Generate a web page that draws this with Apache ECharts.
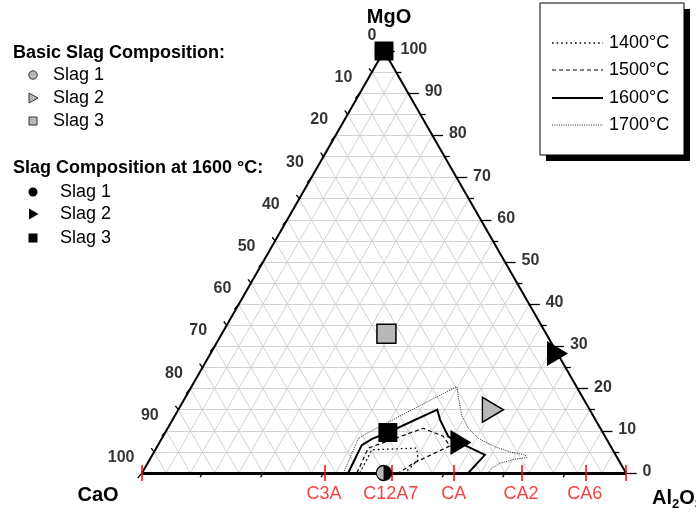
<!DOCTYPE html>
<html>
<head>
<meta charset="utf-8">
<script src="https://cdn.jsdelivr.net/npm/echarts@6/dist/echarts.min.js"></script>
<style>
  html, body { margin: 0; padding: 0; background: #fff; }
  #chart { width: 696px; height: 516px; }
</style>
</head>
<body>
<div id="chart"></div>
<script>
// Compositions in wt%: [CaO, MgO, Al2O3]
const basicSlag1 = [[50, 0, 50]];
const basicSlag2 = [[20, 15, 65]];
const basicSlag3 = [[33, 33, 34]];
const slag1At1600 = [[50, 0, 50]];
const slag2At1600 = [[30.5, 7.2, 62.3], [0, 28.3, 71.7]];
const slag3At1600 = [[44.4, 9.6, 46.0], [0, 100, 0]];

// Liquidus isotherms, [CaO, MgO, Al2O3]
const iso1400 = [[55.0, 0, 45.0], [49.8, 5.5, 44.7], [40.3, 5.9, 53.8], [41.4, 3.1, 55.5], [45.7, 0, 54.3]];
const iso1500 = [[55.6, 0, 44.4], [50.3, 5.9, 43.8], [36.6, 10.6, 52.8], [33.4, 8.7, 57.9], [33.2, 6.4, 60.4], [42.8, 2.3, 54.9], [47.0, 0, 53.0]];
const iso1600 = [[57.4, 0, 42.6], [51.3, 6.6, 42.1], [48.4, 8.1, 43.5], [44.4, 9.6, 46.0], [31.5, 15.0, 53.5],
                 [32.1, 12.6, 55.3], [32.4, 8.6, 59.0], [29.5, 6.2, 64.3], [27.0, 4.3, 68.7], [32.6, 0, 67.4]];
const iso1700 = [[58.4, 0, 41.6], [51.1, 8.3, 40.6], [48.4, 9.6, 42.0], [30.6, 17.8, 51.6], [24.7, 20.5, 54.8],
                 [25.7, 17.8, 56.5], [27.1, 13.7, 59.2], [27.3, 10.6, 62.1], [26.4, 8.2, 65.4], [24.0, 6.2, 69.8],
                 [21.2, 4.9, 73.9], [18.7, 4.3, 77.0], [18.7, 3.6, 77.7], [21.3, 3.3, 75.4], [24.9, 2.3, 72.8],
                 [27.2, 1.1, 71.7], [28.5, 0, 71.5]];

// CaO–Al2O3 binary compounds (wt% Al2O3)
const compoundNames = ['C3A', 'C12A7', 'CA', 'CA2', 'CA6'];
const compoundAl2O3 = [37.7, 51.5, 64.5, 78.4, 91.6];

const axisTicks = [0, 10, 20, 30, 40, 50, 60, 70, 80, 90, 100];
const isothermNames = ['1400°C', '1500°C', '1600°C', '1700°C'];

// ternary -> plot coords (x = Al2O3 + MgO/2, y = MgO)
function tern(p) { return [p[2] + p[1] / 2, p[1]]; }

const FONT = '"Liberation Sans", Arial, Helvetica, sans-serif';

// grid lines every 5 %
const gridLines = [];
for (let k = 5; k < 100; k += 5) {
  gridLines.push({ coords: [tern([100 - k, k, 0]), tern([0, k, 100 - k])] });
  gridLines.push({ coords: [tern([k, 100 - k, 0]), tern([k, 0, 100 - k])] });
  gridLines.push({ coords: [tern([100 - k, 0, k]), tern([0, 100 - k, k])] });
}

// ticks
const tickLines = [];
for (let k = 0; k <= 100; k += 5) {
  const major = k % 10 === 0;
  // right edge (MgO): horizontal, outward
  const r = tern([0, k, 100 - k]);
  tickLines.push({ coords: [r, [r[0] + (major ? 2.2 : 1.1), r[1]]] });
  // left edge (CaO)
  const l = tern([k, 100 - k, 0]);
  if (major) tickLines.push({ coords: [l, [l[0] - 0.9, l[1] - 1.2]] });
  else tickLines.push({ coords: [l, [l[0] - 0.6, l[1] + 0.9]] });
}
for (let k = 12.5; k < 100; k += 12.5) {
  tickLines.push({ coords: [[k, 0], [k - 0.5, -1.0]] });
}

const redTicks = [0].concat(compoundAl2O3, [100]).map(a => ({ coords: [[a, -1.9], [a, 1.9]] }));

const edges = [
  { coords: [tern([100, 0, 0]), tern([0, 100, 0])], lineStyle: { width: 2 } },
  { coords: [tern([0, 100, 0]), tern([0, 0, 100])], lineStyle: { width: 2 } },
  { coords: [tern([100, 0, 0]), tern([0, 0, 100])], lineStyle: { width: 3 } }
];

const isoStyles = [
  { type: [1.6, 3], width: 1.3, color: '#000' },
  { type: [4, 3], width: 1.2, color: '#000' },
  { type: 'solid', width: 2, color: '#000' },
  { type: [1, 1.3], width: 1, color: '#222' }
];
const isoData = [iso1400, iso1500, iso1600, iso1700];

const series = [];
series.push({
  type: 'lines', coordinateSystem: 'cartesian2d', polyline: false, silent: true, clip: false, z: 1,
  lineStyle: { color: '#d2d2d2', width: 1, opacity: 1 },
  data: gridLines
});
isoData.forEach((d, i) => {
  series.push({
    type: 'lines', coordinateSystem: 'cartesian2d', polyline: true, silent: true, clip: false, z: 3,
    lineStyle: Object.assign({ opacity: 1 }, isoStyles[i]),
    data: [{ coords: d.map(tern) }]
  });
});
series.push({
  type: 'lines', coordinateSystem: 'cartesian2d', silent: true, clip: false, z: 4,
  lineStyle: { color: '#000', width: 2, opacity: 1 }, data: edges
});
series.push({
  type: 'lines', coordinateSystem: 'cartesian2d', silent: true, clip: false, z: 4,
  lineStyle: { color: '#000', width: 1.3, opacity: 1 }, data: tickLines
});
series.push({
  type: 'lines', coordinateSystem: 'cartesian2d', silent: true, clip: false, z: 6,
  lineStyle: { color: '#f00', width: 1.5, opacity: 1 }, data: redTicks
});

// tick labels
const labelBase = { color: '#000', fontFamily: FONT, fontWeight: 'bold', fontSize: 16 };
series.push({
  type: 'scatter', silent: true, clip: false, symbolSize: 1, itemStyle: { color: 'rgba(0,0,0,0)' },
  label: Object.assign({ show: true, position: [-7, -15], align: 'right', verticalAlign: 'middle',
    formatter: p => p.value[2] }, labelBase),
  data: axisTicks.map(k => tern([k, 100 - k, 0]).concat([k]))
});
series.push({
  type: 'scatter', silent: true, clip: false, symbolSize: 1, itemStyle: { color: 'rgba(0,0,0,0)' },
  label: Object.assign({ show: true, position: [17, -1], align: 'left', verticalAlign: 'middle',
    formatter: p => p.value[2] }, labelBase),
  data: axisTicks.map(k => tern([0, k, 100 - k]).concat([k]))
});
series.push({
  type: 'scatter', silent: true, clip: false, symbolSize: 1, itemStyle: { color: 'rgba(0,0,0,0)' },
  label: { show: true, position: [0, 22], align: 'center', verticalAlign: 'middle', color: '#f21010',
    fontFamily: FONT, fontSize: 18, formatter: p => compoundNames[p.dataIndex] },
  data: compoundAl2O3.map(a => [a, 0])
});

// slag compositions
const gray = '#b8b8b8';
series.push({
  name: 'Slag 1 (1600 °C)', type: 'scatter', clip: false, z: 7, symbol: 'circle', symbolSize: 16,
  itemStyle: { color: '#000', opacity: 1 }, data: slag1At1600.map(tern)
});
series.push({
  name: 'Slag 1', type: 'scatter', clip: false, z: 8,
  symbol: 'path://M10,0 A10,10 0 0 0 10,20 Z', symbolSize: [7.5, 15], symbolOffset: [-3.8, 0],
  itemStyle: { color: gray, borderColor: '#000', borderWidth: 1, opacity: 1 }, data: basicSlag1.map(tern)
});
series.push({
  name: 'Slag 2', type: 'scatter', clip: false, z: 7, symbol: 'triangle', symbolRotate: -90, symbolSize: [25, 21],
  itemStyle: { color: gray, borderColor: '#000', borderWidth: 1.5, opacity: 1 }, data: basicSlag2.map(tern)
});
series.push({
  name: 'Slag 3', type: 'scatter', clip: false, z: 7, symbol: 'rect', symbolSize: 19,
  itemStyle: { color: gray, borderColor: '#000', borderWidth: 1.5, opacity: 1 }, data: basicSlag3.map(tern)
});
series.push({
  name: 'Slag 2 (1600 °C)', type: 'scatter', clip: false, z: 7, symbol: 'triangle', symbolRotate: -90, symbolSize: [25, 21],
  itemStyle: { color: '#000', opacity: 1 }, data: slag2At1600.map(tern)
});
series.push({
  name: 'Slag 3 (1600 °C)', type: 'scatter', clip: false, z: 7, symbol: 'rect', symbolSize: 19,
  itemStyle: { color: '#000', opacity: 1 }, data: slag3At1600.map(tern)
});

// legends and titles
const graphics = [];
function txt(x, y, s, opt) {
  graphics.push({ type: 'text', x: x, y: y, z: 20,
    style: Object.assign({ text: s, fill: '#000', font: '18px ' + FONT, textVerticalAlign: 'middle' }, opt || {}) });
}
txt(13, 53, 'Basic Slag Composition:', { font: 'bold 18px ' + FONT });
txt(13, 168, 'Slag Composition at 1600 °C:', { font: 'bold 18px ' + FONT });
const legRowsA = [75, 98, 121], legRowsB = [192, 214, 238];
['Slag 1', 'Slag 2', 'Slag 3'].forEach((s, i) => { txt(53, legRowsA[i], s); txt(60, legRowsB[i], s); });
graphics.push({ type: 'circle', shape: { cx: 33, cy: 75, r: 4.2 }, style: { fill: gray, stroke: '#333', lineWidth: 1 }, z: 20 });
graphics.push({ type: 'polygon', shape: { points: [[29, 93], [29, 103], [38, 98]] }, style: { fill: gray, stroke: '#333', lineWidth: 1 }, z: 20 });
graphics.push({ type: 'rect', shape: { x: 29, y: 117, width: 8, height: 8 }, style: { fill: gray, stroke: '#333', lineWidth: 1 }, z: 20 });
graphics.push({ type: 'circle', shape: { cx: 33, cy: 192, r: 4.5 }, style: { fill: '#000' }, z: 20 });
graphics.push({ type: 'polygon', shape: { points: [[29, 208.5], [29, 219.5], [38.5, 214]] }, style: { fill: '#000' }, z: 20 });
graphics.push({ type: 'rect', shape: { x: 28.5, y: 233.5, width: 9, height: 9 }, style: { fill: '#000' }, z: 20 });

// isotherm legend box with drop shadow
graphics.push({ type: 'rect', shape: { x: 546, y: 9, width: 144, height: 152 }, style: { fill: '#000' }, z: 18 });
graphics.push({ type: 'rect', shape: { x: 540, y: 3, width: 144, height: 152 }, style: { fill: '#fff', stroke: '#000', lineWidth: 1 }, z: 19 });
const legY = [43, 70, 98, 125];
isothermNames.forEach((s, i) => {
  graphics.push({ type: 'line', shape: { x1: 552, y1: legY[i], x2: 603, y2: legY[i] }, z: 20,
    style: { stroke: isoStyles[i].color, lineWidth: isoStyles[i].width, lineDash: isoStyles[i].type === 'solid' ? null : isoStyles[i].type } });
  txt(609, legY[i], s);
});

// component titles
txt(389, 17, 'MgO', { font: 'bold 20px ' + FONT, textAlign: 'center' });
txt(98, 495, 'CaO', { font: 'bold 20px ' + FONT, textAlign: 'center' });
graphics.push({ type: 'text', x: 652, y: 498, z: 20,
  style: { rich: { b: { font: 'bold 20px ' + FONT, fill: '#000' }, s: { font: 'bold 13px ' + FONT, fill: '#000', padding: [12, 0, 0, 0] } },
    text: '{b|Al}{s|2}{b|O}{s|3}', textVerticalAlign: 'middle' } });

const chart = echarts.init(document.getElementById('chart'), null, { renderer: 'canvas' });
chart.setOption({
  animation: false,
  backgroundColor: '#fff',
  grid: { left: 142, right: 70, top: 51, bottom: 43 },
  xAxis: { type: 'value', min: 0, max: 100, show: false },
  yAxis: { type: 'value', min: 0, max: 100, show: false },
  series: series,
  graphic: graphics
});
</script>
</body>
</html>
